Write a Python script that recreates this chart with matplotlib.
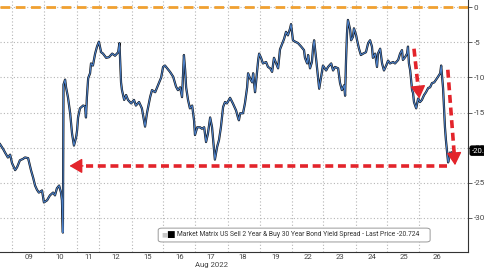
import matplotlib
matplotlib.use("Agg")
import matplotlib.pyplot as plt
import matplotlib.transforms as mtransforms
from matplotlib.patches import FancyBboxPatch

# time axis in trading days (0 = start of 09 Aug session)
day_x = [
    -0.39, -0.29, -0.23, -0.14, -0.07, -0.01, 0.09, 0.15, 0.24, 0.34, 0.40, 0.50,
    0.59, 0.66, 0.72, 0.78, 0.84, 0.94, 1.00, 1.10, 1.19, 1.29, 1.35, 1.41, 1.48,
    1.54, 1.57, 1.60, 1.62, 1.67, 1.70, 1.76, 1.83, 1.89, 1.95, 2.02, 2.05, 2.08,
    2.14, 2.24, 2.30, 2.33, 2.36, 2.40, 2.46, 2.49, 2.55, 2.62, 2.68, 2.74, 2.81,
    2.87, 2.97, 3.06, 3.16, 3.25, 3.35, 3.39, 3.41, 3.44, 3.47, 3.54, 3.60, 3.66,
    3.76, 3.85, 3.91, 4.01, 4.10, 4.20, 4.26, 4.36, 4.42, 4.52, 4.61, 4.71, 4.77,
    4.83, 4.90, 4.99, 5.09, 5.18, 5.24, 5.31, 5.37, 5.43, 5.47, 5.50, 5.56, 5.62,
    5.69, 5.75, 5.78, 5.85, 5.94, 6.00, 6.07, 6.13, 6.19, 6.26, 6.32, 6.38, 6.41,
    6.48, 6.54, 6.60, 6.67, 6.73, 6.79, 6.89, 6.98, 7.08, 7.14, 7.17, 7.21, 7.30,
    7.36, 7.43, 7.46, 7.52, 7.59, 7.62, 7.68, 7.71, 7.78, 7.81, 7.87, 7.93, 8.03,
    8.09, 8.16, 8.22, 8.28, 8.35, 8.41, 8.47, 8.53, 8.60, 8.66, 8.72, 8.79, 8.82,
    8.88, 8.95, 9.04, 9.14, 9.23, 9.26, 9.33, 9.36, 9.42, 9.48, 9.52, 9.55, 9.61,
    9.67, 9.71, 9.77, 9.83, 9.93, 9.99, 10.09, 10.15, 10.21, 10.31, 10.37, 10.43,
    10.50, 10.53, 10.56, 10.59, 10.62, 10.69, 10.72, 10.78, 10.81, 10.88, 10.91,
    10.97, 11.03, 11.10, 11.19, 11.26, 11.32, 11.38, 11.41, 11.48, 11.54, 11.57,
    11.64, 11.70, 11.76, 11.83, 11.89, 11.95, 12.05, 12.11, 12.21, 12.27, 12.33,
    12.36, 12.43, 12.49, 12.52, 12.55, 12.59, 12.62, 12.65, 12.68, 12.71, 12.78,
    12.84, 12.90, 12.96, 13.03, 13.09, 13.16, 13.22, 13.28, 13.35, 13.41, 13.47,
    13.54, 13.57, 13.60, 13.63, 13.66, 13.69, 13.72, 13.76, 13.79, 13.82, 13.85,
    13.88, 13.91,
]
spread = [
    -19.5, -20.2, -20.7, -21.4, -21.0, -22.2, -23.2, -22.8, -21.8, -21.6, -21.4, -21.5,
    -23.2, -24.3, -25.4, -26.0, -26.4, -26.1, -27.8, -27.5, -26.8, -26.4, -26.8, -25.8, -25.4,
    -26.4, -27.5, -32.1, -11.0, -10.3, -11.4, -12.8, -15.1, -18.0, -19.7, -18.5, -17.5, -15.7,
    -14.4, -14.0, -14.1, -15.7, -12.8, -10.1, -9.4, -8.0, -8.3, -6.6, -5.6, -4.9, -6.4,
    -6.6, -7.2, -7.1, -6.6, -6.9, -6.4, -5.1, -7.5, -10.7, -11.8, -13.2, -12.5, -13.2,
    -13.7, -13.2, -14.0, -13.5, -14.4, -17.0, -15.1, -12.8, -11.8, -12.1, -11.1, -10.0, -8.5,
    -8.3, -8.7, -9.2, -9.9, -11.3, -11.8, -11.4, -12.8, -6.8, -9.0, -11.4, -13.2, -14.4,
    -14.0, -16.1, -18.2, -17.1, -17.1, -17.3, -17.1, -19.2, -18.0, -15.7, -17.1, -20.1, -21.7,
    -19.9, -18.9, -17.1, -14.2, -13.5, -13.7, -12.9, -13.7, -14.7, -15.7, -16.1, -15.1, -15.1,
    -13.7, -11.4, -9.4, -10.1, -10.7, -9.4, -12.1, -10.8, -7.5, -6.6, -7.2, -8.0, -7.8,
    -8.5, -8.7, -9.2, -7.2, -8.0, -8.7, -6.0, -5.3, -4.5, -3.5, -4.0, -3.0, -2.4,
    -4.7, -4.9, -5.1, -5.6, -6.1, -7.2, -8.0, -6.8, -8.7, -7.8, -5.6, -4.7, -7.2,
    -9.9, -11.6, -9.9, -8.3, -9.0, -8.5, -8.0, -9.0, -8.5, -8.7, -10.8, -11.8,
    -11.1, -12.6, -7.5, -3.7, -1.8, -3.2, -4.7, -4.2, -3.0, -4.0, -4.7,
    -5.9, -6.8, -6.6, -6.4, -5.1, -4.7, -5.6, -7.2, -6.6, -8.5, -6.6,
    -5.9, -8.0, -9.0, -8.3, -7.6, -8.0, -7.8, -8.0, -7.5, -6.6, -6.1,
    -7.5, -7.1, -6.6, -5.6, -8.0, -9.0, -10.4, -11.8, -12.2, -13.5, -14.4,
    -13.0, -13.5, -13.2, -12.5, -12.1, -11.5, -11.4, -10.8, -10.7, -10.3, -9.9,
    -9.4, -8.3, -9.9, -11.5, -14.2, -17.1, -18.9, -20.7, -22.1, -21.5, -20.7,
    -21.1, -20.7,
]

day_bounds = [0, 1.01, 2.06, 2.75, 3.78, 4.78, 5.78, 6.82, 7.84, 8.84, 9.84, 10.87, 11.87, 12.88]
label_pos = [0.53, 1.51, 2.40, 3.28, 4.29, 5.31, 6.29, 7.30, 8.35, 9.36, 10.37, 11.38, 12.40, 13.44]
day_labels = ["09", "10", "11", "12", "15", "16", "17", "18", "19", "22", "23", "24", "25", "26"]
last_price = -20.724

# red arrows: (x0, y0, x1, y1)
arrows = [
    (13.75, -22.6, 1.72, -22.6),
    (12.71, -5.9, 12.88, -13.0),
    (13.78, -8.9, 14.01, -22.5),
]

red = "#e3242b"
font = ["Roboto", "DejaVu Sans"]

fig = plt.figure(figsize=(4.85, 2.69), dpi=100)
ax = fig.add_axes([0, 0.065, 0.965, 0.935])

ax.set_xlim(-0.39, 14.42)
ax.set_ylim(-34.8, 1.04)

# grid
ax.set_yticks([0, -5, -10, -15, -20, -25, -30])
ax.set_yticklabels(["0", "-5", "-10", "-15", "-20", "-25", "-30"], family=font)
ax.set_xticks(day_bounds)
ax.set_xticklabels([])
ax.set_xticks(label_pos, minor=True)
ax.set_xticklabels(day_labels, minor=True, family=font)
ax.grid(True, which="major", color="#b5b5b5", linestyle=(0, (1, 2)), linewidth=0.8)

ax.axhline(0, color="#f0a030", linestyle=(0, (3.5, 2)), linewidth=2.0, zorder=2)

ax.plot(day_x, spread, color="#111111", linewidth=1.6, zorder=3)
ax.plot(day_x, spread, color="#4a7fc8", linewidth=0.8, zorder=4)

for x0, y0, x1, y1 in arrows:
    fx = x0 + (x1 - x0) * 0.95
    fy = y0 + (y1 - y0) * 0.95
    ax.plot([x0, fx], [y0, fy], color=red, linestyle=(0, (2.2, 1.3)), linewidth=2.6,
            solid_capstyle="butt", dash_capstyle="butt", zorder=5)
    ax.annotate("", xy=(x1, y1), xytext=(fx, fy),
                arrowprops=dict(arrowstyle="-|>,head_length=0.6,head_width=0.35",
                                color=red, lw=1, mutation_scale=13), zorder=5)

ax.yaxis.tick_right()
ax.tick_params(axis="y", which="major", length=3, width=0.6, color="#444444",
               labelsize=5.8, labelcolor="#444444", pad=1)
ax.tick_params(axis="x", which="major", length=0)
ax.tick_params(axis="x", which="minor", length=0, labelsize=5.6,
               labelcolor="#444444", pad=1.5)

for side in ["left", "top"]:
    ax.spines[side].set_visible(False)
ax.spines["right"].set_color("#333333")
ax.spines["bottom"].set_color("#333333")
ax.spines["right"].set_linewidth(0.8)
ax.spines["bottom"].set_linewidth(0.8)

ax.text(6.29, -0.04, "Aug 2022", transform=mtransforms.blended_transform_factory(ax.transData, ax.transAxes),
        ha="center", va="top", fontsize=5.6, color="#444444", family=font)

# last price tag
tag = mtransforms.blended_transform_factory(ax.transAxes, ax.transData)
ax.text(1.008, last_price + 0.3, "%.3f" % last_price, transform=tag, ha="left", va="center",
        fontsize=5.6, color="white", clip_on=False, family=font, zorder=8,
        bbox=dict(boxstyle="round,pad=0.2", fc="black", ec="black"))

# legend box
ax.add_patch(FancyBboxPatch((0.338, 0.038), 0.581, 0.055, transform=ax.transAxes,
                            boxstyle="round,pad=0,rounding_size=0.008",
                            fc="white", ec="#9a9a9a", lw=0.7, zorder=6))
ax.text(0.345, 0.066, "\u25a0", transform=ax.transAxes, fontsize=4.5, color="#c8c8c8",
        ha="left", va="center", zorder=7)
ax.text(0.354, 0.066, "\u25a0", transform=ax.transAxes, fontsize=6.5, color="black",
        ha="left", va="center", zorder=7)
ax.text(0.378, 0.066, "Market Matrix US Sell 2 Year & Buy 30 Year Bond Yield Spread - Last Price -20.724",
        transform=ax.transAxes, fontsize=4.9, color="#333333", ha="left", va="center",
        zorder=7, family=font)

fig.savefig("out.png", dpi=100)
